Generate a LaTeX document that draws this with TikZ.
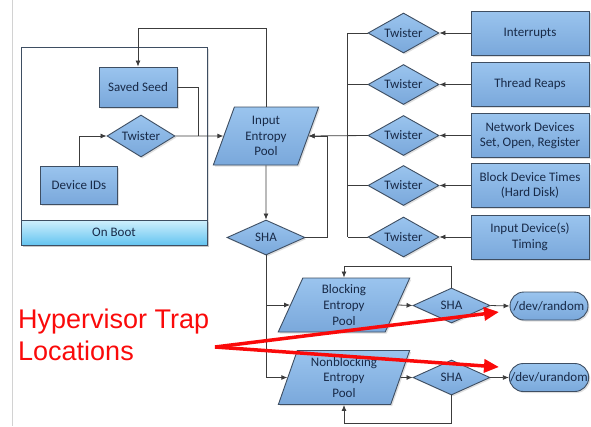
\documentclass[tikz,border=0pt]{standalone}
\usepackage{fontspec}
\setmainfont{Carlito}
\newfontfamily\trapfont{Liberation Sans}
\usetikzlibrary{shapes.geometric, positioning, arrows.meta, shadows}

\definecolor{boxtop}{RGB}{154,196,238}
\definecolor{boxbot}{RGB}{122,168,219}
\definecolor{boxline}{RGB}{62,78,98}
\definecolor{boxtext}{RGB}{24,42,72}
\definecolor{wire}{RGB}{60,60,60}
\definecolor{boottop}{RGB}{208,240,253}
\definecolor{bootbot}{RGB}{100,196,240}
\definecolor{trapred}{RGB}{250,10,10}

\tikzset{
  boxnode/.style={draw=boxline, line width=0.9pt, top color=boxtop, bottom color=boxbot,
    text=boxtext, font=\fontsize{13}{15.7}\selectfont, align=center, inner sep=1pt,
    drop shadow={opacity=0.25, shadow xshift=1.5pt, shadow yshift=-1.5pt}},
  srcbox/.style={boxnode, rectangle, minimum width=118pt, minimum height=44pt},
  mixer/.style={boxnode, diamond, aspect=1.8, inner sep=0pt, minimum width=71pt, minimum height=40pt},
  hasher/.style={boxnode, diamond, aspect=2.2, inner sep=0pt, minimum width=77pt, minimum height=35pt},
  poolbox/.style={boxnode, trapezium, trapezium stretches=true,
    trapezium left angle=72, trapezium right angle=108},
  devbox/.style={boxnode, rectangle, rounded corners=14pt, minimum width=78pt, minimum height=28pt},
  flow/.style={draw=wire, line width=0.8pt, -{Latex[length=6pt,width=5pt]}},
  wireline/.style={draw=wire, line width=0.8pt},
  traparrow/.style={draw=trapred, line width=3.5pt, -{Triangle[length=15pt,width=13pt]}},
}

\begin{document}
\begin{tikzpicture}[x=1pt, y=-1pt]
\useasboundingbox (0,0) rectangle (591,426);
\draw[gray!35, line width=0.8pt] (12,0) -- (12,426);

% on boot block
\draw[boxline, line width=0.9pt, fill=white,
  drop shadow={opacity=0.25, shadow xshift=1.5pt, shadow yshift=-1.5pt}] (21,47) rectangle (207,245);
\node[boxnode, rectangle, top color=boottop, bottom color=bootbot, drop shadow={opacity=0},
  minimum width=186pt, minimum height=25pt] (onboot) at (114,232.5) {On Boot};
\node[boxnode, rectangle, minimum width=78pt, minimum height=40pt] (seed) at (138,87) {Saved Seed};
\node[mixer, minimum width=68pt, minimum height=42pt] (tw0) at (141,136) {Twister};
\node[boxnode, rectangle, minimum width=77pt, minimum height=38pt] (devids) at (79,185) {Device IDs};

% input pool and first hash
\node[poolbox, minimum width=106pt, minimum height=58pt, trapezium left angle=71, trapezium right angle=109]
  (pool) at (266,136) {Input\\Entropy\\Pool};
\node[hasher, minimum width=78pt] (sha0) at (266,237.5) {SHA};

% entropy sources
\foreach \i/\y/\txt in {1/33/Interrupts, 2/84.5/Thread Reaps, 3/135.5/{Network Devices\\Set, Open, Register},
  4/185.5/{Block Device Times\\(Hard Disk)}, 5/237/{Input Device(s)\\Timing}} {
  \node[srcbox] (src\i) at (530,\y) {\txt};
  \node[mixer] (tw\i) at (403.5,\y) {Twister};
  \draw[flow] (src\i.west) -- (tw\i.east);
  \draw[wireline] (tw\i.west) -- ++(-20,0);
}
\coordinate (busT) at ([xshift=-20pt]tw1.west);
\coordinate (busB) at ([xshift=-20pt]tw5.west);
\draw[wireline] (busT) -- (busB);

% output pools
\node[poolbox, minimum width=132pt, minimum height=54pt] (bpool) at (344,305) {Blocking\\Entropy\\Pool};
\node[poolbox, minimum width=132pt, minimum height=54pt] (npool) at (344,377.5) {Nonblocking\\Entropy\\Pool};
\node[hasher] (bsha) at (451.5,305.5) {SHA};
\node[hasher] (nsha) at (451.5,377.5) {SHA};
\node[devbox] (random) at (549,306) {/dev/random};
\node[devbox] (urandom) at (549,377.5) {/dev/urandom};

% connectors
\draw[flow] (devids.north) |- (tw0.west);
\draw[flow] (tw0.east) -- (pool.west);
\coordinate (seedjoin) at (198,136);
\draw[wireline] (seed.east) -| (seedjoin);
\draw[flow] (pool.north) -- ++(0,-78) -| (seed.north);
\draw[flow] (pool.south) -- (sha0.north);
\draw[flow] (sha0.east) -| ([xshift=19pt]pool.east) -- (pool.east);
\draw[flow] (tw3.west) -- (pool.east);
\draw[flow] (sha0.south) |- (bpool.west);
\draw[flow] (sha0.south) |- (npool.west);
\draw[flow] (bpool.east) -- (bsha.west);
\draw[flow] (npool.east) -- (nsha.west);
\draw[flow] (bsha.east) -- (random.west);
\draw[flow] (nsha.east) -- (urandom.west);
\draw[flow] (bsha.north) -- ++(0,-21) -| (bpool.north);
\draw[flow] (nsha.south) -- ++(0,28) -| (npool.south);

% trap locations
\node[anchor=north west, inner sep=0pt, align=left, text=trapred,
  font=\trapfont\fontsize{27}{32}\selectfont] (trap) at (18,309) {Hypervisor Trap\\Locations};
\coordinate (trapfork) at (215,347);
\coordinate (hitrand) at (499,312);
\coordinate (hiturand) at (499,367);
\draw[traparrow] (trapfork) -- (hitrand);
\draw[traparrow] (trapfork) -- (hiturand);
\end{tikzpicture}
\end{document}
